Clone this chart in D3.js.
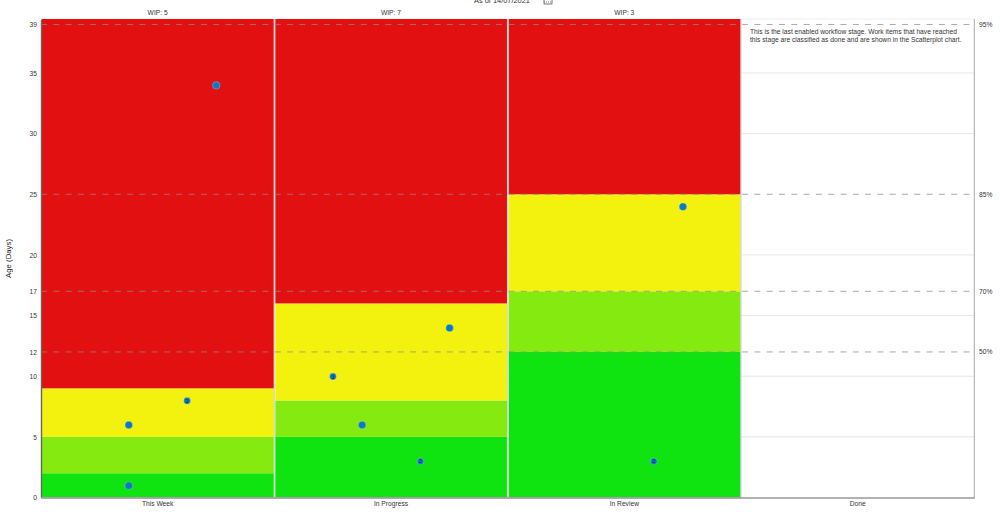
<!DOCTYPE html>
<html>
<head>
<meta charset="utf-8">
<style>
html, body { margin: 0; padding: 0; background: #fff; overflow: hidden; }
text { font-family: "Liberation Sans", Arial, sans-serif; fill: #333; opacity: 0.999; }
</style>
<script src="https://cdn.jsdelivr.net/npm/d3@7"></script>
</head>
<body>
<svg id="chart" width="1000" height="512"></svg>
<script>
'use strict';
// workflow stages
var stages = ['This Week', 'In Progress', 'In Review', 'Done'];
var wipCounts = [5, 7, 3];

// upper limit of green, lime and yellow for each stage
var greenLimits = [2, 5, 12];
var limeLimits = [5, 8, 17];
var yellowLimits = [9, 16, 25];
var ageMax = 39.45;

var ageTicks = [0, 5, 10, 12, 15, 17, 20, 25, 30, 35, 39];
var gridTicks = [5, 10, 15, 20, 30, 35];
var percentileLabels = ['50%', '70%', '85%', '95%'];
var percentileAges = [12, 17, 25, 39];

// work items: stage, slot inside the stage, age, how many items share the dot
var itemStages = ['This Week', 'This Week', 'This Week', 'This Week',
    'In Progress', 'In Progress', 'In Progress', 'In Progress',
    'In Review', 'In Review'];
var itemSlots = [0.75, 0.625, 0.375, 0.375, 0.25, 0.375, 0.75, 0.625, 0.75, 0.625];
var itemAges = [34, 8, 6, 1, 10, 6, 14, 3, 24, 3];
var itemCounts = [1, 2, 1, 1, 3, 1, 1, 2, 1, 2];

var fontSize = 6.7;
var svg = d3.select('#chart');
var x = d3.scaleBand().domain(stages).range([41, 974.3]);
var y = d3.scaleLinear().domain([0, ageMax]).range([497.5, 19]);

// grid first, the coloured bands cover it
svg.selectAll('.grid')
    .data(gridTicks)
    .enter()
    .append('line')
    .attr('class', 'grid')
    .attr('x1', x.range()[0])
    .attr('x2', x.range()[1])
    .attr('y1', function(d){return y(d);})
    .attr('y2', function(d){return y(d);})
    .attr('stroke', '#e6e6e6')
    .attr('stroke-width', 1);

// bands
var bands = [];
[0, 1, 2].forEach(function(i){
    bands.push({stage: stages[i], from: 0, to: greenLimits[i], color: '#10e410'});
    bands.push({stage: stages[i], from: greenLimits[i], to: limeLimits[i], color: '#84ea10'});
    bands.push({stage: stages[i], from: limeLimits[i], to: yellowLimits[i], color: '#f2f20e'});
    bands.push({stage: stages[i], from: yellowLimits[i], to: ageMax, color: '#e21010'});
});
svg.selectAll('.band')
    .data(bands)
    .enter()
    .append('rect')
    .attr('class', 'band')
    .attr('x', function(d){return x(d.stage) + 1;})
    .attr('width', x.bandwidth() - 1)
    .attr('y', function(d){return y(d.to);})
    .attr('height', function(d){return y(d.from) - y(d.to);})
    .attr('fill', function(d){return d.color;});

// separators between stages
svg.selectAll('.sep')
    .data(stages)
    .enter()
    .append('line')
    .attr('class', 'sep')
    .attr('x1', function(d){return x(d) + x.bandwidth();})
    .attr('x2', function(d){return x(d) + x.bandwidth();})
    .attr('y1', y(ageMax))
    .attr('y2', y(0))
    .attr('stroke', function(d){return d === 'Done' ? '#a8a8a8' : '#d8d8d8';})
    .attr('stroke-width', function(d){return d === 'Done' ? 1 : 1.4;});

// top edge over the Done stage
svg.append('line')
    .attr('x1', x('Done'))
    .attr('x2', x.range()[1])
    .attr('y1', y(ageMax))
    .attr('y2', y(ageMax))
    .attr('stroke', '#eeeeee')
    .attr('stroke-width', 1);

// percentile lines
svg.selectAll('.pct')
    .data(percentileAges)
    .enter()
    .append('line')
    .attr('class', 'pct')
    .attr('x1', x.range()[0])
    .attr('x2', x.range()[1] - 2)
    .attr('y1', function(d){return y(d);})
    .attr('y2', function(d){return y(d);})
    .attr('stroke', '#8c8c8c')
    .attr('stroke-opacity', 0.75)
    .attr('stroke-width', 1)
    .attr('stroke-dasharray', '6,6.3');

svg.selectAll('.pctLabel')
    .data(percentileAges)
    .enter()
    .append('text')
    .attr('class', 'pctLabel')
    .text(function(d, i){return percentileLabels[i];})
    .attr('x', 979)
    .attr('y', function(d){return y(d) + 2.5;})
    .attr('font-size', fontSize);

// axes
var yAxis = svg.append('g')
    .attr('transform', 'translate(' + x.range()[0] + ',0)')
    .call(d3.axisLeft(y).tickValues(ageTicks).tickFormat(d3.format('d')).tickSize(0).tickPadding(4));
yAxis.select('.domain').attr('stroke', '#666').attr('stroke-width', 1.4);
yAxis.selectAll('text').attr('font-size', fontSize).attr('font-family', null);

var xAxis = svg.append('g')
    .attr('transform', 'translate(0,' + y(0) + ')')
    .call(d3.axisBottom(x).tickSize(0).tickPadding(4));
xAxis.select('.domain').attr('stroke', '#999').attr('stroke-width', 1.4);
xAxis.selectAll('text').attr('font-size', fontSize).attr('font-family', null);

// the axis shows pink under the coloured stages
svg.append('line')
    .attr('x1', x.range()[0])
    .attr('x2', x('Done'))
    .attr('y1', y(0) + 0.5)
    .attr('y2', y(0) + 0.5)
    .attr('stroke', '#b48fc0')
    .attr('stroke-width', 0.8);

svg.append('text')
    .text('Age (Days)')
    .attr('transform', 'translate(11,258.5) rotate(-90)')
    .attr('text-anchor', 'middle')
    .attr('font-size', 7.8)
    .style('fill', '#222');

// WIP counts
svg.selectAll('.wip')
    .data(wipCounts)
    .enter()
    .append('text')
    .attr('class', 'wip')
    .text(function(d){return 'WIP: ' + d;})
    .attr('x', function(d, i){return x(stages[i]) + x.bandwidth() / 2;})
    .attr('y', 14.5)
    .attr('text-anchor', 'middle')
    .attr('font-size', fontSize);

// title is cut by the top of the window
svg.append('text')
    .text('As of 14/07/2021')
    .attr('x', 502)
    .attr('y', 3)
    .attr('text-anchor', 'middle')
    .attr('font-size', 7.4);

// calendar icon
var icon = svg.append('g').attr('stroke', '#555').attr('fill', 'none').attr('stroke-width', 0.8);
icon.append('rect').attr('x', 544).attr('y', -2).attr('width', 8).attr('height', 6);
icon.append('line').attr('x1', 544).attr('x2', 552).attr('y1', 2).attr('y2', 2).attr('stroke-dasharray', '1,1');

// note in the Done stage
var noteLines = ['This is the last enabled workflow stage. Work items that have reached',
    'this stage are classified as done and are shown in the Scatterplot chart.'];
svg.selectAll('.note')
    .data(noteLines)
    .enter()
    .append('text')
    .attr('class', 'note')
    .text(function(d){return d;})
    .attr('x', 750)
    .attr('y', function(d, i){return 33.5 + i * 8;})
    .attr('font-size', fontSize);

// items
var items = itemAges.map(function(age, i){
    return {stage: itemStages[i], slot: itemSlots[i], age: age, count: itemCounts[i]};
});
var dots = svg.selectAll('.item')
    .data(items)
    .enter()
    .append('g')
    .attr('class', 'item')
    .attr('transform', function(d){
        return 'translate(' + (x(d.stage) + d.slot * x.bandwidth() + 0.3) + ',' + (y(d.age) + 0.3) + ')';
    });
dots.append('circle')
    .attr('r', function(d){return d.count > 1 ? 3.4 : 3.8;})
    .attr('fill', '#0b7ac0')
    .attr('stroke', '#fff')
    .attr('stroke-opacity', 0.3)
    .attr('stroke-width', 0.8);
dots.filter(function(d){return d.count > 1;})
    .append('text')
    .text(function(d){return d.count;})
    .attr('text-anchor', 'middle')
    .attr('y', 2)
    .attr('font-size', 5.5)
    .style('fill', '#123');
</script>
</body>
</html>
